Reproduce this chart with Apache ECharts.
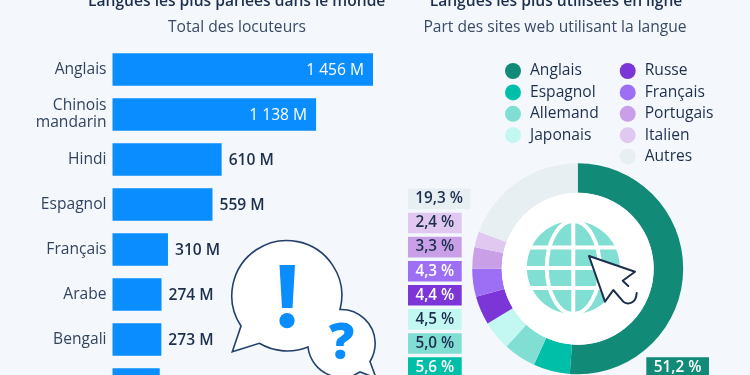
<!DOCTYPE html>
<html>
<head>
<meta charset="utf-8">
<style>
  html, body { margin: 0; padding: 0; background: #f4f8fc; }
  #chart { width: 750px; height: 375px; }
</style>
<script src="https://cdn.jsdelivr.net/npm/echarts@6/dist/echarts.min.js"></script>
</head>
<body>
<div id="chart"></div>
<script>
// left chart: speakers, in millions
var categories = ['Anglais', 'Chinois\nmandarin', 'Hindi', 'Espagnol', 'Français', 'Arabe', 'Bengali', 'Portugais'];
var speakers = [1456, 1138, 610, 559, 310, 274, 273, 264];

// right chart: share of websites, in %
var webLangues = ['Anglais', 'Espagnol', 'Allemand', 'Japonais', 'Russe', 'Français', 'Portugais', 'Italien', 'Autres'];
var webParts = [51.2, 5.6, 5.0, 4.5, 4.4, 4.3, 3.3, 2.4, 19.3];

var webColors = ['#128a78', '#00bfa8', '#81ded3', '#c3f7f2', '#7c35d6', '#9d6ff5', '#c9a0e8', '#e0c8f0', '#e8eff2'];
var webTextColors = ['#fff', '#fff', '#1e2f4d', '#1e2f4d', '#fff', '#fff', '#1e2f4d', '#1e2f4d', '#1e2f4d'];

var FONT = '"Open Sans", sans-serif';
var DARK = '#1e2f4d';
var BLUE = '#0a8dff';

// the graphic component has no "path" type, so the svg outlines get registered as shapes
function regPath(name, d) {
  echarts.graphic.registerShape(name, echarts.graphic.extendPath(d, {}));
}
regPath('bubbles', 'M241 326 A55 55 0 1 1 340 309.5 A34 34 0 0 1 370 361.5 L376 378 L360 372 L345 380 L335 380 L330 375.2 A34 34 0 0 1 308 347 A55 55 0 0 1 259.3 343.3 L232.3 351.7 Z');
regPath('meridian', 'M546.8 267.5 A26.5 46.5 0 1 1 599.8 267.5 A26.5 46.5 0 1 1 546.8 267.5 Z');
regPath('cursorFill', 'M589 256 L635 271.7 L622.7 280.7 L628.3 286 L613.3 290 L605 301.7 Z');
regPath('cursorLine', 'M628.3 286 L622.7 280.7 L635 271.7 L589 256 L605 301.7 L613.3 290 L623.3 301.7 C628 305 636 304 636.7 293');

function fmtSpeakers(v) {
  return String(v).replace(/\B(?=(\d{3})+$)/g, ' ') + ' M';
}
function fmtPart(v) {
  return v.toFixed(1).replace('.', ',') + ' %';
}

// coloured % boxes left of the donut + the one for Anglais
function partBoxes() {
  var out = [];
  function box(i, x, y, w) {
    out.push({
      type: 'rect', z: 10,
      shape: { x: x, y: y, width: w, height: 20.6 },
      style: { fill: webColors[i] }
    });
    out.push({
      type: 'text', z: 11,
      x: x + w / 2, y: y + 10.3,
      style: {
        text: fmtPart(webParts[i]), fill: webTextColors[i],
        font: '600 15.3px ' + FONT, align: 'center', verticalAlign: 'middle'
      }
    });
  }
  // Autres on top, going back up to Espagnol
  for (var i = webParts.length - 1, row = 0; i >= 1; i--, row++) {
    box(i, 408, 188.6 + row * 24.1, i === webParts.length - 1 ? 62.3 : 53.7);
  }
  box(0, 646.3, 357.3, 62.7);
  return out;
}

// the two speech bubbles, one outline
function bubbles() {
  return [
    { type: 'bubbles', z: 10, shape: {}, style: { fill: '#fff', stroke: '#24406e', lineWidth: 1.6 } },
    {
      type: 'polygon', z: 12,
      shape: { points: [[279.5, 265], [295, 265], [292.5, 308], [282, 308]] },
      style: { fill: BLUE }
    },
    { type: 'circle', z: 12, shape: { cx: 287, cy: 320.7, r: 7.6 }, style: { fill: BLUE } },
    {
      type: 'text', z: 12, x: 341.5, y: 345,
      style: { text: '?', fill: BLUE, font: '800 50px ' + FONT, align: 'center', verticalAlign: 'middle' }
    }
  ];
}

// globe + cursor in the donut hole
function globe() {
  var cx = 573.3, cy = 267.5, r = 46.5;
  var white = { stroke: '#fff', lineWidth: 4, fill: null };
  var teal = '#81ded3';
  return [
    { type: 'circle', z: 5, shape: { cx: 577.7, cy: 268.7, r: 76 }, style: { fill: '#fff' } },
    { type: 'circle', z: 6, shape: { cx: cx, cy: cy, r: r }, style: { fill: teal } },
    { type: 'meridian', z: 7, shape: {}, style: white },
    { type: 'line', z: 7, shape: { x1: cx, y1: cy - r, x2: cx, y2: cy + r }, style: white },
    { type: 'line', z: 7, shape: { x1: cx - r, y1: 247.5, x2: cx + r, y2: 247.5 }, style: white },
    { type: 'line', z: 7, shape: { x1: cx - r, y1: 268, x2: cx + r, y2: 268 }, style: white },
    { type: 'line', z: 7, shape: { x1: cx - r, y1: 288, x2: cx + r, y2: 288 }, style: white },
    { type: 'cursorFill', z: 8, shape: {}, style: { fill: '#fff' } },
    {
      type: 'cursorLine', z: 9, shape: {},
      style: { fill: null, stroke: '#1e2f4d', lineWidth: 2, lineJoin: 'round', lineCap: 'round' }
    }
  ];
}

var chart = echarts.init(document.getElementById('chart'), null, { renderer: 'canvas' });

chart.setOption({
  animation: false,
  backgroundColor: '#f4f8fc',
  textStyle: { fontFamily: FONT },
  title: [
    { text: 'Langues les plus parlées dans le monde', left: 236.7, top: -6, padding: 0, textAlign: 'center',
      textStyle: { fontFamily: FONT, fontSize: 15.6, fontWeight: 600, color: DARK } },
    { text: 'Langues les plus utilisées en ligne', left: 556, top: -6, padding: 0, textAlign: 'center',
      textStyle: { fontFamily: FONT, fontSize: 15.6, fontWeight: 600, color: DARK } },
    { text: 'Total des locuteurs', left: 237, top: 20, padding: 0, textAlign: 'center',
      textStyle: { fontFamily: FONT, fontSize: 15.6, fontWeight: 400, color: '#3a4a66' } },
    { text: 'Part des sites web utilisant la langue', left: 555, top: 20, padding: 0, textAlign: 'center',
      textStyle: { fontFamily: FONT, fontSize: 15.6, fontWeight: 400, color: '#3a4a66' } }
  ],
  legend: [
    { data: webLangues.slice(0, 4), left: 505, top: 63 },
    { data: webLangues.slice(4), left: 619.7, top: 63 }
  ].map(function (l) {
    l.orient = 'vertical';
    l.padding = 0;
    l.icon = 'circle';
    l.itemWidth = 16;
    l.itemHeight = 16;
    l.itemGap = 5.4;
    l.selectedMode = false;
    l.textStyle = { fontFamily: FONT, fontSize: 15.6, color: DARK, padding: [0, 0, 0, 4] };
    return l;
  }),
  // 8 bands of 45px, the last one runs off the bottom of the picture
  grid: { left: 112.5, top: 47, width: 260.5, height: 360, outerBoundsMode: 'none' },
  xAxis: { type: 'value', min: 0, max: 1456, show: false },
  yAxis: {
    type: 'category',
    inverse: true,
    data: categories,
    axisLine: { show: false },
    axisTick: { show: false },
    axisLabel: { color: '#33435f', fontFamily: FONT, fontSize: 15.6, lineHeight: 17, margin: 6, align: 'right', padding: [2, 0, 0, 0] }
  },
  series: [
    {
      type: 'bar',
      barWidth: 32.5,
      itemStyle: { color: BLUE },
      data: speakers.map(function (v) {
        var big = v > 1000;
        return {
          value: v,
          label: {
            show: true,
            position: big ? 'insideRight' : 'right',
            distance: big ? 9 : 7,
            offset: [0, 1],
            color: big ? '#fff' : DARK,
            fontFamily: FONT,
            fontSize: 15.6,
            fontWeight: big ? 500 : 600,
            formatter: function (p) { return fmtSpeakers(p.value); }
          }
        };
      })
    },
    {
      type: 'pie',
      center: [577.7, 268.7],
      radius: [76, 105.5],
      startAngle: 90,
      silent: true,
      label: { show: false },
      labelLine: { show: false },
      data: webLangues.map(function (n, i) {
        return { name: n, value: webParts[i], itemStyle: { color: webColors[i] } };
      })
    }
  ],
  graphic: partBoxes().concat(bubbles()).concat(globe())
});
</script>
</body>
</html>
